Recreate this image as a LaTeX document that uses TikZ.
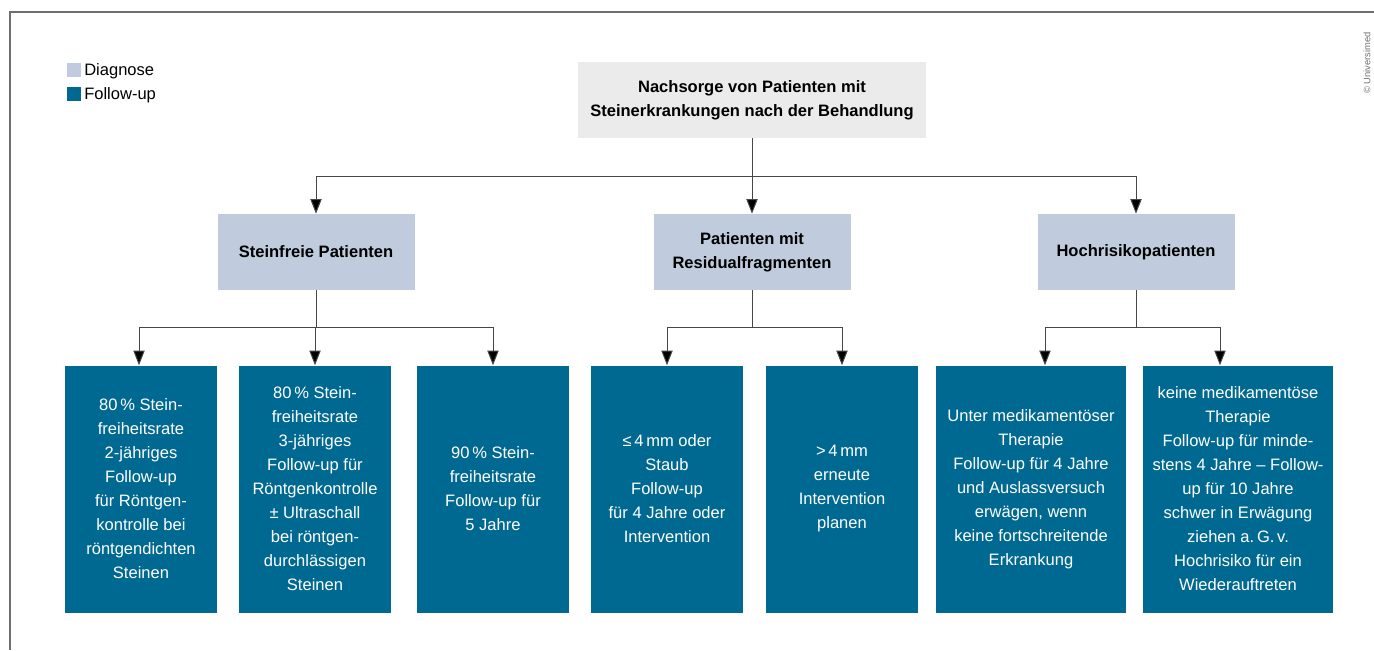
\documentclass[tikz,border=0pt]{standalone}
\usepackage{fontspec}
\setmainfont{Liberation Sans}
\usetikzlibrary{arrows.meta}
\definecolor{diaggray}{RGB}{192,204,221}
\definecolor{followblue}{RGB}{0,105,145}
\definecolor{headgray}{RGB}{235,235,235}
\definecolor{framegray}{RGB}{110,110,110}
\definecolor{linegray}{RGB}{70,70,70}
\begin{document}
\begin{tikzpicture}[x=0.75pt,y=0.75pt,yscale=-1,xscale=1,
  txt/.style={font=\fontsize{12.4pt}{18pt}\selectfont, align=center, inner sep=0pt},
  headbox/.style={txt, fill=headgray, font=\fontsize{12.4pt}{18pt}\selectfont\bfseries, minimum width=261pt, minimum height=57pt},
  diagbox/.style={txt, fill=diaggray, font=\fontsize{12.4pt}{18pt}\selectfont\bfseries, minimum width=147.75pt, minimum height=57pt},
  followbox/.style={txt, fill=followblue, text=white, minimum width=114pt, minimum height=185.25pt},
  widebox/.style={followbox, minimum width=142.5pt},
  conn/.style={draw=linegray, line width=0.75pt},
  arr/.style={conn, -{Triangle[length=11pt,width=8.5pt,fill=black]}},
  legendsq/.style={fill=#1, minimum size=10.5pt, inner sep=0pt}
]
\useasboundingbox (0,0) rectangle (1374,650);

%Frame
\draw [framegray, line width=1.1pt] (10,650) -- (10,12) -- (1374,12) ;
% Text Node
\node [rotate=90, text=framegray, font=\fontsize{7pt}{8pt}\selectfont, inner sep=0pt] (copy) at (1367,63) {© Universimed};

%Legend
\node [legendsq=diaggray] (lgdiag) at (74,70) {};
\node [legendsq=followblue] (lgfollow) at (74,94) {};
\node [txt, anchor=west] (lgdiagtxt) at (84,71) {Diagnose};
\node [txt, anchor=west] (lgfollowtxt) at (84,95) {Follow-up};

%Head
\node [headbox] (nachsorge) at (752,100) {Nachsorge von Patienten mit\\Steinerkrankungen nach der Behandlung};

%Diagnose
\node [diagbox] (steinfrei) at (316,252) {Steinfreie Patienten};
\node [diagbox] (residual) at (752,252) {Patienten mit\\Residualfragmenten};
\node [diagbox] (hochrisiko) at (1136,252) {Hochrisikopatienten};

%Follow-up
\node [followbox] (sf2j) at (141,489) {80\,\% Stein-\\freiheitsrate\\2-jähriges\\Follow-up\\für Röntgen-\\kontrolle bei\\röntgendichten\\Steinen};
\node [followbox] (sf3j) at (315,489) {80\,\% Stein-\\freiheitsrate\\3-jähriges\\Follow-up für\\Röntgenkontrolle\\± Ultraschall\\bei röntgen-\\durchlässigen\\Steinen};
\node [followbox] (sf5j) at (493,489) {90\,\% Stein-\\freiheitsrate\\Follow-up für\\5 Jahre};
\node [followbox] (klein) at (667,489) {≤\,4\,mm oder\\Staub\\Follow-up\\für 4 Jahre oder\\Intervention};
\node [followbox] (gross) at (842,489) {>\,4\,mm\\erneute\\Intervention\\planen};
\node [widebox] (mitther) at (1031,489) {Unter medikamentöser\\Therapie\\Follow-up für 4 Jahre\\und Auslassversuch\\erwägen, wenn\\keine fortschreitende\\Erkrankung};
\node [widebox] (ohnether) at (1238,489) {keine medikamentöse\\Therapie\\Follow-up für minde-\\stens 4 Jahre – Follow-\\up für 10 Jahre\\schwer in Erwägung\\ziehen a.\,G.\,v.\\Hochrisiko für ein\\Wiederauftreten};

%Straight Lines
\draw [conn] (nachsorge.south) -- ++(0,38) coordinate (jhead) ;
\draw [conn] (jhead -| steinfrei.north) -- (jhead -| hochrisiko.north) ;
\draw [arr] (jhead -| steinfrei.north) -- (steinfrei.north) ;
\draw [arr] (jhead) -- (residual.north) ;
\draw [arr] (jhead -| hochrisiko.north) -- (hochrisiko.north) ;

%Straight Lines
\draw [conn] (steinfrei.south) -- ++(0,37) coordinate (jstein) ;
\draw [arr] (jstein) -| ([xshift=-1.5pt]sf2j.north) ;
\draw [arr] (jstein) -| (sf3j.north) ;
\draw [arr] (jstein) -| (sf5j.north) ;

%Straight Lines
\draw [conn] (residual.south) -- ++(0,37) coordinate (jres) ;
\draw [arr] (jres) -| (klein.north) ;
\draw [arr] (jres) -| (gross.north) ;

%Straight Lines
\draw [conn] (hochrisiko.south) -- ++(0,37) coordinate (jhoch) ;
\draw [arr] (jhoch) -| ([xshift=10.5pt]mitther.north) ;
\draw [arr] (jhoch) -| ([xshift=-13.5pt]ohnether.north) ;

\end{tikzpicture}
\end{document}
